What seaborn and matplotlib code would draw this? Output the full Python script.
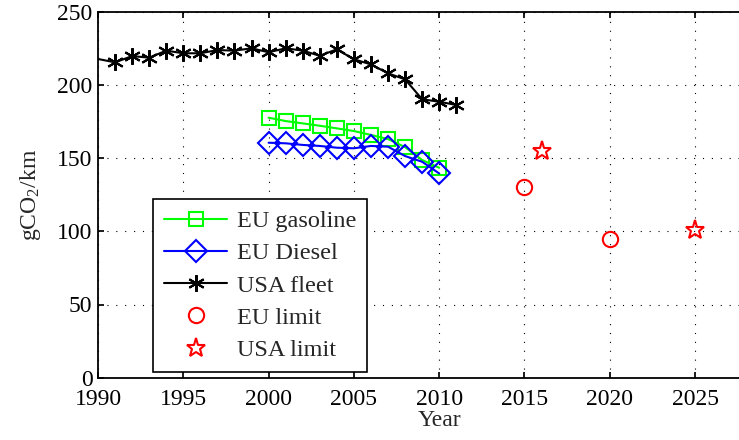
import matplotlib
matplotlib.use("Agg")
import matplotlib.pyplot as plt
import seaborn as sns
import numpy as np

sns.set_theme(style="ticks")
plt.rcParams['font.family'] = ['Liberation Serif', 'DejaVu Serif']
plt.rcParams['mathtext.fontset'] = 'custom'
plt.rcParams['mathtext.rm'] = 'Liberation Serif'
plt.rcParams['mathtext.it'] = 'Liberation Serif'

# Data
usa_years = [1989, 1991, 1992, 1993, 1994, 1995, 1996, 1997, 1998, 1999, 2000,
             2001, 2002, 2003, 2004, 2005, 2006, 2007, 2008, 2009, 2010, 2011]
usa_fleet = [220, 215.4, 219.7, 218.6, 223.4, 221.6, 221.6, 223.8, 223.4, 225, 222.3,
             225, 223.4, 219.9, 224.3, 217.5, 214, 207.9, 203.8, 190.2, 188.5, 186.3]
eu_years = [2000, 2001, 2002, 2003, 2004, 2005, 2006, 2007, 2008, 2009, 2010]
eu_gasoline = [177.6, 175.3, 173.7, 172.1, 170.3, 168.5, 165.8, 163, 157.5, 148.7, 143.4]
eu_diesel = [160.5, 160.1, 159, 158.3, 157.1, 156.7, 158.3, 157.8, 151.4, 147.5, 139.5]
eu_limit_years = [2015, 2020]
eu_limit = [130, 95]
usa_limit_years = [2016, 2025]
usa_limit = [155, 101]

fig = plt.figure(figsize=(7.39, 4.40), dpi=100)
ax = fig.add_axes([98/739, (440-377.7)/440, 682.4/739, 366/440])

sns.lineplot(x=eu_years, y=eu_gasoline, ax=ax, color='#00ff00', marker='s',
             markersize=10, markerfacecolor='none', markeredgecolor='#00ff00',
             markeredgewidth=1.5, linewidth=1.5, label='EU gasoline', estimator=None, sort=False)
sns.lineplot(x=eu_years, y=eu_diesel, ax=ax, color='#0000ff', marker='D',
             markersize=11, markerfacecolor='none', markeredgecolor='#0000ff',
             markeredgewidth=1.5, linewidth=1.5, label='EU Diesel', estimator=None, sort=False)
sns.lineplot(x=usa_years, y=usa_fleet, ax=ax, color='black', marker=(6, 2, 0),
             markersize=12, markeredgecolor='black', markeredgewidth=1.5,
             linewidth=1.5, label='USA fleet', estimator=None, sort=False)
sns.lineplot(x=eu_limit_years, y=eu_limit, ax=ax, color='red', marker='o',
             markersize=11, markerfacecolor='none', markeredgecolor='red',
             markeredgewidth=1.5, linestyle='none', label='EU limit', estimator=None, sort=False)
sns.lineplot(x=usa_limit_years, y=usa_limit, ax=ax, color='red', marker='*',
             markersize=14, markerfacecolor='none', markeredgecolor='red',
             markeredgewidth=1.5, linestyle='none', label='USA limit', estimator=None, sort=False)

ax.set_xlim(1990, 2030)
ax.set_ylim(0, 250)
ax.set_xticks([1990, 1995, 2000, 2005, 2010, 2015, 2020, 2025])
ax.set_yticks([0, 50, 100, 150, 200, 250])
ax.grid(True, color='black', linestyle=(0, (1, 7)), linewidth=0.8)
ax.tick_params(direction='in', labelsize=17, length=4, top=True, right=True, colors='black')
ax.tick_params(axis='y', pad=4)
ax.tick_params(axis='x', pad=8)
for s in ax.spines.values():
    s.set_linewidth(1.3)
    s.set_color('black')
ax.set_xlabel('Year', fontsize=17, labelpad=0)
ax.set_ylabel('gCO$_2$/km', fontsize=17, labelpad=10)

leg = ax.legend(loc='lower left', bbox_to_anchor=(0.0806, 0.0156), borderaxespad=0,
                fontsize=17.5, handlelength=2.6, labelspacing=0.42, fancybox=False,
                frameon=True, edgecolor='black', framealpha=1, borderpad=0.45,
                handletextpad=0.4)
leg.get_frame().set_linewidth(1.2)

fig.savefig('out.png', dpi=100)
